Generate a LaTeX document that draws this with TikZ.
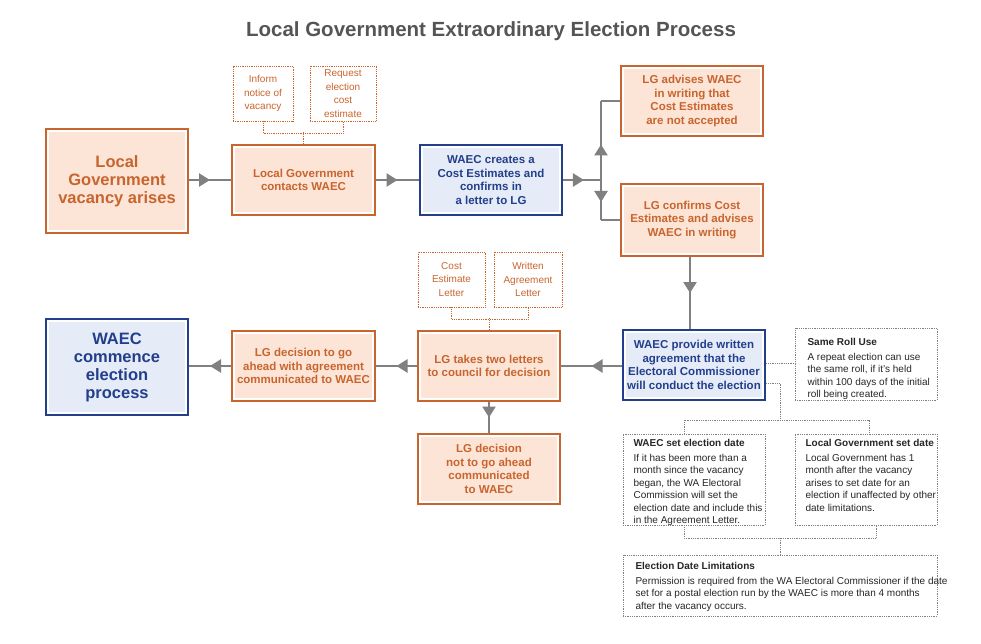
\documentclass[tikz,border=0pt]{standalone}
\usepackage{fontspec}
\setmainfont{Liberation Sans}
\usetikzlibrary{decorations.markings,arrows.meta}
\definecolor{ob}{HTML}{C8652E}
\definecolor{of}{HTML}{FCE4D6}
\definecolor{bb}{HTML}{233E8B}
\definecolor{bf}{HTML}{E5ECF7}
\definecolor{gl}{HTML}{808080}
\definecolor{tt}{HTML}{555555}
\tikzset{
 inset/.style={path picture={\fill[#1]([shift={(3pt,-3pt)}]path picture bounding box.north west) rectangle ([shift={(-3pt,3pt)}]path picture bounding box.south east);}},
 obox/.style={draw=ob,line width=2.2pt,fill=white,inset=of,text=ob,font=\bfseries\fontsize{11.5}{13.5}\selectfont,align=center},
 bbox/.style={draw=bb,line width=2.2pt,fill=white,inset=bf,text=bb,font=\bfseries\fontsize{11.5}{13.5}\selectfont,align=center},
 big/.style={font=\bfseries\fontsize{16.5}{18}\selectfont},
 odot/.style={draw=ob,densely dotted,thick,text=ob,font=\fontsize{10}{13.5}\selectfont,align=center},
 gdot/.style={draw=gl,densely dotted,thick},
 note/.style={anchor=north west,font=\fontsize{10}{12.5}\selectfont,align=left,text=black!85},
 conn/.style={draw=gl,line width=2.4pt,postaction={decorate},decoration={markings,mark=at position #1 with {\arrow[gl]{Triangle[length=11pt,width=13pt]}}}},
 conn/.default=0.5,
 plain/.style={draw=gl,line width=2.4pt},
 odl/.style={draw=ob,densely dotted,thick},
 gdl/.style={draw=gl,densely dotted,thick},
}
\begin{document}
\begin{tikzpicture}[x=1pt,y=-1pt]
\useasboundingbox (0,0) rectangle (981,644);
\node[font=\bfseries\fontsize{20.5}{24}\selectfont,text=tt] (title) at (491,31) {Local Government Extraordinary Election Process};
\newcommand{\bx}[6]{\node[#1,minimum width=#4-#2,minimum height=#5-#3,inner sep=0pt] (#6) at ({(#2+#4)/2},{(#3+#5)/2})}
\bx{obox,big}{46}{129}{188}{233}{vac} {Local\\Government\\vacancy arises};
\bx{obox}{232}{145}{375}{215}{cont} {Local Government\\contacts WAEC};
\bx{odot}{233}{66}{293}{121}{inf} {Inform\\notice of\\vacancy};
\bx{odot}{310}{66}{376}{121}{req} {Request\\election\\cost\\estimate};
\bx{bbox}{420}{145}{562}{215}{cre} {WAEC creates a\\Cost Estimates and\\confirms in\\a letter to LG};
\bx{obox}{621}{66}{763}{136}{adv} {LG advises WAEC\\in writing that\\Cost Estimates\\are not accepted};
\bx{obox}{621}{184}{763}{256}{conf} {LG confirms Cost\\Estimates and advises\\WAEC in writing};
\bx{bbox}{623}{330}{765}{400}{prov} {WAEC provide written\\agreement that the\\Electoral Commissioner\\will conduct the election};
\bx{obox}{418}{331}{560}{401}{two} {LG takes two letters\\to council for decision};
\bx{odot}{418}{252}{485}{307}{cel} {Cost\\Estimate\\Letter};
\bx{odot}{494}{252}{562}{307}{wal} {Written\\Agreement\\Letter};
\bx{obox}{232}{331}{375}{401}{go} {LG decision to go\\ahead with agreement\\communicated to WAEC};
\bx{bbox,big}{46}{319}{188}{415}{com} {WAEC\\commence\\election\\process};
\bx{obox}{418}{434}{560}{504}{not} {LG decision\\not to go ahead\\communicated\\to WAEC};
\bx{gdot}{795}{328}{937}{400}{roll} {};
\node[note] (rollt) at (804,335) {\textbf{Same Roll Use}\\[2pt]A repeat election can use\\the same roll, if it's held\\within 100 days of the initial\\roll being created.};
\bx{gdot}{623}{434}{765}{525}{wsd} {};
\node[note] (wsdt) at (630,436) {\textbf{WAEC set election date}\\[2pt]If it has been more than a\\month since the vacancy\\began, the WA Electoral\\Commission will set the\\election date and include this\\in the Agreement Letter.};
\bx{gdot}{795}{434}{937}{525}{lsd} {};
\node[note] (lsdt) at (802,436) {\textbf{Local Government set date}\\[2pt]Local Government has 1\\month after the vacancy\\arises to set date for an\\election if unaffected by other\\date limitations.};
\bx{gdot}{623}{555}{937}{616}{lim} {};
\node[note] (limt) at (632,559) {\textbf{Election Date Limitations}\\[2pt]Permission is required from the WA Electoral Commissioner if the date\\set for a postal election run by the WAEC is more than 4 months\\after the vacancy occurs.};
% connectors
\path[conn] (vac.east|-cont) -- (cont.west);
\path[conn] (cont.east) -- (cre.west);
\coordinate (br) at (601,180);
\coordinate (bt) at (601,101);
\coordinate (bb2) at (601,220);
\path[conn=0.55] (cre.east) -- (br);
\path[plain] (bt) -- (adv.west|-bt);
\path[plain] (bb2) -- (conf.west|-bb2);
\path[conn=0.45] (br) -- (bt);
\path[conn=0.55] (br) -- (bb2);
\path[conn] (conf.south-|690,0) -- (prov.north-|690,0);
\path[conn] (prov.west|-two) -- (two.east);
\path[conn] (two.west) -- (go.east);
\path[conn] (go.west) -- (com.east|-go);
\path[conn] (two.south) -- (not.north);
% dotted brackets
\path[odl] (inf.south) -- ++(0,12) -| (req.south);
\path[odl] (cont.north) -- ++(0,-12);
\path[odl] (cel.south) -- ++(0,12) -| (wal.south);
\path[odl] (two.north) -- ++(0,-12);
\path[gdl] (prov.east|-0,363) -- (roll.west|-0,363);
\path[gdl] (prov.east|-0,383) -| (780,420) coordinate (m1);
\path[gdl] (wsd.north-|684,0) |- (m1) -| (lsd.north-|869,0);
\path[gdl] (wsd.south-|684,0) |- (780,538) coordinate (m2) -| (lsd.south-|876,0);
\path[gdl] (m2) -- (lim.north-|780,0);
\end{tikzpicture}
\end{document}
